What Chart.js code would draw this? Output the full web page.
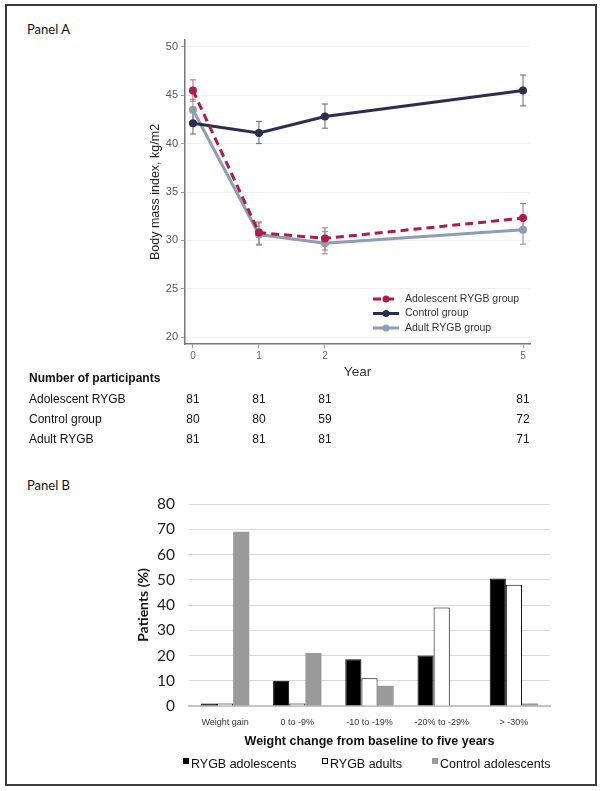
<!DOCTYPE html>
<html>
<head>
<meta charset="utf-8">
<script src="https://cdn.jsdelivr.net/npm/chart.js@4/dist/chart.umd.min.js"></script>
<style>
  html, body { margin: 0; padding: 0; background: #fff; }
  #page { position: relative; width: 604px; height: 791px; overflow: hidden; }
  #frame { position: absolute; left: 5px; top: 4px; width: 588px; height: 778px; border: 2px solid #3a3a3a; }
  .panel { position: absolute; left: 27px; font: 13px Lato, sans-serif; color: #111; }
  canvas { position: absolute; left: 0; }
</style>
</head>
<body>
<div id="page">
  <div id="frame"></div>
  <div class="panel" style="top:21px">Panel A</div>
  <div class="panel" style="top:477px">Panel B</div>
  <canvas id="chart-a" width="604" height="470" style="top:0"></canvas>
  <canvas id="chart-b" width="604" height="315" style="top:470px"></canvas>
</div>
<script>
// Panel A - BMI by year
const YEARS = [0, 1, 2, 5];
const ADOL_BMI = [45.5, 30.8, 30.2, 32.3];
const ADOL_LO = [44.4, 29.6, 29.0, 30.8];
const ADOL_HI = [46.6, 31.9, 31.3, 33.8];
const CTRL_BMI = [42.1, 41.1, 42.8, 45.5];
const CTRL_LO = [41.0, 40.0, 41.6, 43.9];
const CTRL_HI = [43.2, 42.3, 44.1, 47.1];
const ADULT_BMI = [43.5, 30.6, 29.7, 31.1];
const ADULT_LO = [42.4, 29.5, 28.6, 29.6];
const ADULT_HI = [44.6, 31.8, 30.9, 32.6];

// participants table
const TABLE_ROWS = ['Adolescent RYGB', 'Control group', 'Adult RYGB'];
const N_ADOL = [81, 81, 81, 81];
const N_CTRL = [80, 80, 59, 72];
const N_ADULT = [81, 81, 81, 71];

// Panel B - weight change distribution
const WEIGHT_BINS = ['Weight gain', '0 to -9%', '-10 to -19%', '-20% to -29%', '> -30%'];
const RYGB_ADOL = [1, 10, 18.5, 20, 50.5];
const RYGB_ADULT = [1, 1, 11, 39, 48];
const CONTROL_ADOL = [69, 21, 8, 0, 1];

const toPoints = (vals) => YEARS.map((x, i) => ({ x: x, y: vals[i] }));

// draws the error bars through the chart scales
const errorBars = {
  id: 'errorBars',
  beforeDatasetsDraw(chart) {
    const { ctx, scales: { x, y } } = chart;
    chart.data.datasets.forEach((ds) => {
      ctx.save();
      ctx.strokeStyle = ds.errColor;
      ctx.lineWidth = 1;
      YEARS.forEach((yr, i) => {
        const px = x.getPixelForValue(yr);
        const top = y.getPixelForValue(ds.hi[i]);
        const bot = y.getPixelForValue(ds.lo[i]);
        ctx.beginPath();
        ctx.moveTo(px, top); ctx.lineTo(px, bot);
        ctx.moveTo(px - 3, top); ctx.lineTo(px + 3, top);
        ctx.moveTo(px - 3, bot); ctx.lineTo(px + 3, bot);
        ctx.stroke();
      });
      ctx.restore();
    });
  },
};

// legend inside the plot + participants table under it
const panelAExtras = {
  id: 'panelAExtras',
  afterDraw(chart) {
    const { ctx, scales: { x } } = chart;
    ctx.save();
    ctx.font = '10.5px "Liberation Sans", Arial, sans-serif';
    ctx.textBaseline = 'middle';
    [0, 1, 2].forEach((k) => {
      const ds = chart.data.datasets[k];
      const yy = 299 + k * 14.5;
      ctx.strokeStyle = ds.borderColor;
      ctx.lineWidth = 3;
      ctx.setLineDash(ds.borderDash || []);
      ctx.beginPath();
      ctx.moveTo(373, yy); ctx.lineTo(399, yy);
      ctx.stroke();
      ctx.setLineDash([]);
      ctx.fillStyle = ds.borderColor;
      ctx.beginPath();
      ctx.arc(386, yy, 3.5, 0, Math.PI * 2);
      ctx.fill();
      ctx.fillStyle = '#333';
      ctx.textAlign = 'left';
      ctx.fillText(ds.label, 405, yy);
    });

    ctx.fillStyle = '#111';
    ctx.font = 'bold 12px "Liberation Sans", Arial, sans-serif';
    ctx.fillText('Number of participants', 29, 379);
    ctx.font = '12px "Liberation Sans", Arial, sans-serif';
    [N_ADOL, N_CTRL, N_ADULT].forEach((row, r) => {
      const yy = 400 + r * 20;
      ctx.textAlign = 'left';
      ctx.fillText(TABLE_ROWS[r], 29, yy);
      ctx.textAlign = 'center';
      row.forEach((n, i) => {
        ctx.fillText(String(n), x.getPixelForValue(YEARS[i]), yy);
      });
    });
    ctx.restore();
  },
};

const RED = '#b01c48';
const NAVY = '#2b2f4d';
const STEEL = '#8d9db3';

new Chart(document.getElementById('chart-a'), {
  type: 'line',
  data: {
    datasets: [
      { label: 'Adolescent RYGB group', data: toPoints(ADOL_BMI), lo: ADOL_LO, hi: ADOL_HI,
        borderColor: RED, backgroundColor: RED, borderDash: [8, 5], borderWidth: 3,
        pointRadius: 4, pointBorderWidth: 0, errColor: 'rgba(176,28,72,0.7)', order: 1 },
      { label: 'Control group', data: toPoints(CTRL_BMI), lo: CTRL_LO, hi: CTRL_HI,
        borderColor: NAVY, backgroundColor: NAVY, borderWidth: 3,
        pointRadius: 4, pointBorderWidth: 0, errColor: '#666', order: 2 },
      { label: 'Adult RYGB group', data: toPoints(ADULT_BMI), lo: ADULT_LO, hi: ADULT_HI,
        borderColor: STEEL, backgroundColor: STEEL, borderWidth: 3,
        pointRadius: 4, pointBorderWidth: 0, errColor: '#8a8a8a', order: 3 },
    ],
  },
  options: {
    responsive: false,
    animation: false,
    layout: { padding: { left: 130, top: 40, right: 74, bottom: 90 } },
    plugins: { legend: { display: false }, tooltip: { enabled: false } },
    scales: {
      x: {
        type: 'linear', min: -0.12, max: 5.106,
        afterBuildTicks: (s) => { s.ticks = YEARS.map((v) => ({ value: v })); },
        afterFit: (s) => { s.height = 36; },
        grid: { drawOnChartArea: false, tickLength: 4, tickColor: '#999' },
        border: { color: '#777', width: 1.5 },
        ticks: { color: '#666', font: { size: 10, family: '"Liberation Sans", Arial' }, padding: 2 },
        title: { display: true, text: 'Year', color: '#333', font: { size: 13.5, family: '"Liberation Sans", Arial' }, padding: { top: 0, bottom: 0 } },
      },
      y: {
        min: 19.28, max: 50.72,
        afterFit: (s) => { s.width = 55; },
        grid: { color: '#efefef', tickLength: 4, tickColor: '#999' },
        border: { color: '#777', width: 1.5 },
        ticks: { stepSize: 5, includeBounds: false, color: '#555', padding: 3, font: { size: 11, family: '"Liberation Sans", Arial' } },
        title: { display: true, text: 'Body mass index, kg/m2', color: '#222', font: { size: 12.5, family: '"Liberation Sans", Arial' }, padding: { top: 18, bottom: 0 } },
      },
    },
  },
  plugins: [errorBars, panelAExtras],
});

// legend for panel B
const panelBLegend = {
  id: 'panelBLegend',
  afterDraw(chart) {
    const ctx = chart.ctx;
    const starts = [183, 322, 432];
    ctx.save();
    ctx.font = '12.5px "Liberation Sans", Arial, sans-serif';
    ctx.textBaseline = 'middle';
    chart.data.datasets.forEach((ds, k) => {
      const x0 = starts[k];
      const yy = 295;
      ctx.fillStyle = ds.backgroundColor;
      ctx.fillRect(x0, yy - 7, 6, 6);
      ctx.strokeStyle = ds.borderColor;
      ctx.lineWidth = 1;
      ctx.strokeRect(x0 + 0.5, yy - 6.5, 5, 5);
      ctx.fillStyle = '#111';
      ctx.fillText(ds.label, x0 + 8, yy);
    });
    ctx.restore();
  },
};

new Chart(document.getElementById('chart-b'), {
  type: 'bar',
  data: {
    labels: WEIGHT_BINS,
    datasets: [
      { label: 'RYGB adolescents', data: RYGB_ADOL, backgroundColor: '#000', borderColor: '#000', borderWidth: 1 },
      { label: 'RYGB adults', data: RYGB_ADULT, backgroundColor: '#fff', borderColor: '#000', borderWidth: 1 },
      { label: 'Control adolescents', data: CONTROL_ADOL, backgroundColor: '#9a9a9a', borderColor: '#9a9a9a', borderWidth: 0 },
    ],
  },
  options: {
    responsive: false,
    animation: false,
    categoryPercentage: 0.67,
    barPercentage: 1,
    layout: { padding: { left: 130, top: 34, right: 54, bottom: 33 } },
    plugins: { legend: { display: false }, tooltip: { enabled: false } },
    scales: {
      x: {
        afterFit: (s) => { s.height = 46; },
        grid: { display: false, drawTicks: false },
        border: { color: '#c4c4c4', width: 2 },
        ticks: { autoSkip: false, maxRotation: 0, color: '#333', padding: 11, font: { size: 9, family: '"Liberation Sans", Arial' } },
        title: { display: true, text: 'Weight change from baseline to five years', color: '#111', font: { size: 12.5, weight: 'bold', family: '"Liberation Sans", Arial' }, padding: { top: 0, bottom: 3 } },
      },
      y: {
        min: 0, max: 80,
        afterFit: (s) => { s.width = 59; },
        grid: { color: '#d9d9d9', drawTicks: false },
        border: { display: false },
        ticks: { stepSize: 10, color: '#222', padding: 14, font: { size: 15.5, family: 'Lato' } },
        title: { display: true, text: 'Patients (%)', color: '#111', font: { size: 14, weight: 'bold', family: 'Lato' }, padding: { top: 5, bottom: 0 } },
      },
    },
  },
  plugins: [panelBLegend],
});
</script>
</body>
</html>
